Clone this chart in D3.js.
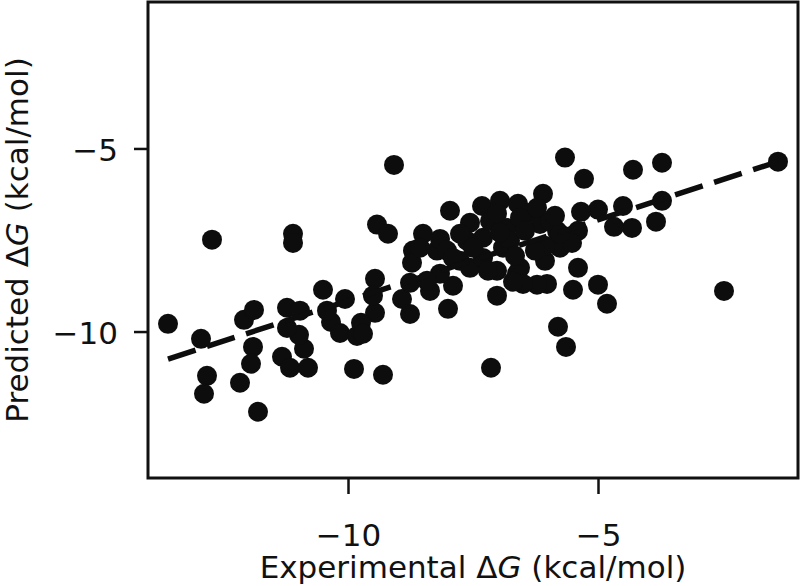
<!DOCTYPE html>
<html>
<head>
<meta charset="utf-8">
<script src="https://cdn.jsdelivr.net/npm/d3@7"></script>
<style>
  body { margin: 0; background: #fff; }
  text { font-family: "DejaVu Sans", sans-serif; fill: #111; }
</style>
</head>
<body>
<div class="chart"></div>
<script>
// experimental vs predicted binding free energies (kcal/mol)
const expDG = [
  -13.60, -12.94, -12.82, -12.88, -12.16, -11.80, -12.72, -11.10, -11.10, -12.08,
  -11.88, -11.90, -11.94, -11.32, -11.16, -10.80, -10.88, -10.98, -11.22, -11.22,
  -10.96, -10.50, -10.06, -10.34, -10.16, -9.82, -10.42, -9.88, -9.30, -9.46,
  -9.46, -9.50, -9.74, -9.70, -8.92, -8.76, -8.00, -8.70, -8.72, -8.76,
  -7.90, -8.22, -8.16, -8.36, -7.76, -9.08, -7.96, -9.42, -9.20, -8.50,
  -8.16, -7.56, -7.32, -6.96, -6.60, -6.10, -6.36, -5.82, -5.76, -6.06,
  -6.56, -6.90, -7.30, -7.62, -8.02, -8.56, -7.02, -6.62, -7.56, -7.90,
  -7.30, -6.82, -7.16, -6.16, -8.42, -5.66, -5.28, -4.30, -3.72, -1.40,
  -3.72, -3.84, -4.32, -4.50, -4.68, -5.00, -5.34, -5.40, -5.52, -5.40,
  -5.00, -2.48, -5.50, -4.82, -5.64, -5.80, -7.14, -7.02, -6.02, -6.22,
  -6.50, -6.70, -7.20, -7.76, -7.02, -6.56, -6.22, -5.96, -5.76, -6.76,
  -7.50, -6.46, -6.06, -6.96, -6.26, -6.66, -5.86
];
const predDG = [
  -9.79, -10.20, -11.21, -11.70, -11.40, -12.19, -7.49, -7.33, -7.58, -9.68,
  -9.41, -10.42, -10.88, -10.69, -10.99, -10.99, -10.47, -10.09, -9.90, -9.35,
  -9.43, -8.86, -9.11, -9.74, -10.04, -10.12, -9.43, -11.02, -11.18, -8.56,
  -9.49, -9.02, -9.76, -10.06, -9.11, -9.52, -9.38, -7.79, -8.12, -8.67,
  -8.75, -7.79, -8.42, -8.89, -8.07, -5.45, -6.70, -7.08, -7.33, -7.33,
  -7.47, -7.03, -6.57, -6.43, -6.51, -6.24, -6.76, -7.25, -7.71, -8.07,
  -8.26, -7.71, -7.44, -7.52, -7.79, -7.71, -8.34, -8.42, -8.26, -7.99,
  -7.99, -7.17, -6.98, -7.06, -8.61, -5.25, -5.83, -5.58, -5.39, -5.36,
  -6.43, -7.00, -7.17, -6.57, -7.14, -6.67, -6.73, -7.25, -7.58, -8.26,
  -8.72, -8.89, -8.86, -9.24, -10.42, -9.87, -10.99, -9.02, -8.70, -8.72,
  -8.70, -8.64, -8.34, -7.33, -6.78, -6.89, -6.62, -6.98, -7.33, -7.52,
  -7.71, -7.25, -7.66, -7.30, -7.79, -7.93, -6.84
];
const xTicks = [-10, -5];
const yTicks = [-10, -5];
const fitSlope = 0.442;
const fitIntercept = -4.74;

const width = 800;
const height = 586;
const margin = { top: 2, right: 2, bottom: 108, left: 148 };

const svg = d3.select('.chart').append('svg')
  .attr('width', width)
  .attr('height', height)

const x = d3.scaleLinear().domain([-14, -1]).range([margin.left, width - margin.right]);
const y = d3.scaleLinear().domain([-14, -1]).range([height - margin.bottom, margin.top]);

const points = expDG.map((d, i) => ({ x: d, y: predDG[i] }));

svg.selectAll('.dot')
  .data(points)
  .enter()
  .append('circle')
  .attr('cx', d => x(d.x))
  .attr('cy', d => y(d.y))
  .attr('r', 10)
  .style('fill', '#0d0d0d')

// dashed least-squares line over the data range
const xExt = d3.extent(expDG);
svg.append('path')
  .attr('d', d3.line()(xExt.map(v => [x(v), y(fitSlope * v + fitIntercept)])))
  .attr('fill', 'none')
  .attr('stroke', '#0d0d0d')
  .attr('stroke-width', 5.5)
  .attr('stroke-dasharray', '29,12')

const fontSize = 31;

const xAxis = svg.append('g')
  .attr('transform', `translate(0,${height - margin.bottom})`)
  .call(d3.axisBottom(x).tickValues(xTicks).tickSize(16).tickPadding(30).tickFormat(d3.format('d')))
xAxis.select('.domain').remove();

const yAxis = svg.append('g')
  .attr('transform', `translate(${margin.left},0)`)
  .call(d3.axisLeft(y).tickValues(yTicks).tickSize(14).tickPadding(16).tickFormat(d3.format('d')))
yAxis.select('.domain').remove();

svg.selectAll('.tick line').attr('stroke', '#111').attr('stroke-width', 2.5);
svg.selectAll('.tick text')
  .style('font-family', '"DejaVu Sans", sans-serif')
  .style('font-size', fontSize + 'px')
  .attr('fill', '#111')
yAxis.selectAll('.tick text').attr('dy', '0.38em');

// frame
svg.append('rect')
  .attr('x', margin.left)
  .attr('y', margin.top)
  .attr('width', width - margin.left - margin.right)
  .attr('height', height - margin.top - margin.bottom)
  .attr('fill', 'none')
  .attr('stroke', '#111')
  .attr('stroke-width', 3)

const xLabel = svg.append('text')
  .attr('x', (margin.left + width - margin.right) / 2)
  .attr('y', 578)
  .attr('text-anchor', 'middle')
  .style('font-size', fontSize + 'px')
xLabel.append('tspan').text('Experimental Δ');
xLabel.append('tspan').style('font-style', 'italic').text('G');
xLabel.append('tspan').text(' (kcal/mol)');

const yLabel = svg.append('text')
  .attr('transform', `translate(28,${(margin.top + height - margin.bottom) / 2}) rotate(-90)`)
  .attr('text-anchor', 'middle')
  .style('font-size', fontSize + 'px')
yLabel.append('tspan').text('Predicted Δ');
yLabel.append('tspan').style('font-style', 'italic').text('G');
yLabel.append('tspan').text(' (kcal/mol)');
</script>
</body>
</html>
